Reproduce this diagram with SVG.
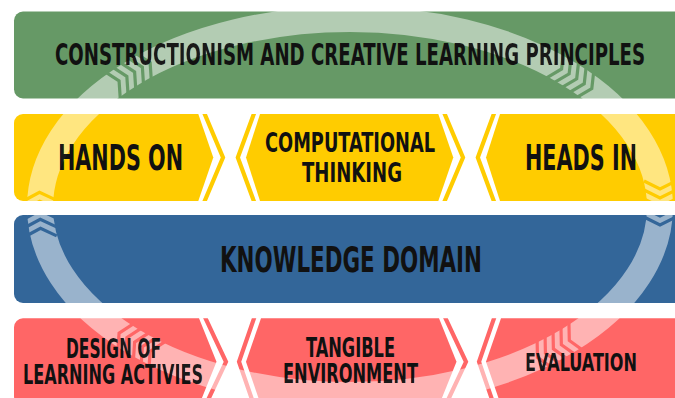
<svg xmlns="http://www.w3.org/2000/svg" width="675" height="398" viewBox="0 0 675 398">
<defs>
<style>
.lbl{font-family:"Liberation Sans Narrow","DejaVu Sans Condensed","Liberation Sans",Arial,sans-serif;font-weight:700;fill:#111;}
.green{fill:#669966}
.yellow{fill:#FFCC00}
.blue{fill:#336699}
.red{fill:#FF6666}
.sy{fill:none;stroke:#FFCC00;stroke-width:4.2;stroke-miterlimit:10}
.sr{fill:none;stroke:#FF6666;stroke-width:4.2;stroke-miterlimit:10}
.ring{fill:none;stroke:#fff;stroke-opacity:.5;stroke-width:26}
</style>
<clipPath id="rowY"><rect x="0" y="114" width="675" height="87"/></clipPath>
<clipPath id="rowR"><rect x="0" y="318.3" width="675" height="87"/></clipPath>
<g id="chevs" fill="none" stroke="#000" stroke-width="3.2">
<polyline points="-26,-16 -18,0 -26,16"/>
<polyline points="-17,-16 -9,0 -17,16"/>
<polyline points="-8,-16 0,0 -8,16"/>
<polyline points="1,-16 9,0 1,16"/>
<polyline points="10,-16 18,0 10,16"/>
</g>
<mask id="ringMask" maskUnits="userSpaceOnUse" x="0" y="0" width="675" height="398">
<rect width="675" height="398" fill="#fff"/>
<use href="#chevs" transform="translate(134.6,71.8) rotate(-30.4)"/>
<use href="#chevs" transform="translate(576.7,78.8) rotate(33)"/>
<use href="#chevs" transform="translate(660,207) rotate(90)"/>
<use href="#chevs" transform="translate(553.4,348.9) rotate(152.2)"/>
<use href="#chevs" transform="translate(134.6,342.2) rotate(-149.6)"/>
<use href="#chevs" transform="translate(40,210.3) rotate(-91.6)"/>
<use href="#t-principles"/>
<use href="#t-hands"/>
<use href="#t-comp1"/>
<use href="#t-comp2"/>
<use href="#t-heads"/>
<use href="#t-knowledge"/>
<use href="#t-design1"/>
<use href="#t-design2"/>
<use href="#t-tang1"/>
<use href="#t-tang2"/>
<use href="#t-eval"/>
</mask>
</defs>

<g id="node-principles">
<rect class="green" x="14" y="11.5" width="700" height="87" rx="9"/>
<text id="t-principles" class="lbl" x="55" y="65" font-size="30" textLength="590" lengthAdjust="spacingAndGlyphs">CONSTRUCTIONISM AND CREATIVE LEARNING PRINCIPLES</text>
</g>

<g id="node-hands-on">
<path class="yellow" d="M23,114 H198.3 L213.3,157.5 L198.3,201 H23 A9,9 0 0 1 14,192 V123 A9,9 0 0 1 23,114 Z"/>
<text id="t-hands" class="lbl" x="58" y="170" font-size="35" textLength="125" lengthAdjust="spacingAndGlyphs">HANDS ON</text>
</g>

<g id="node-computational-thinking">
<path class="yellow" d="M260,114 H438.3 L453.3,157.5 L438.3,201 H260 L246,157.5 Z"/>
<text id="t-comp1" class="lbl" x="265" y="152" font-size="27" textLength="170" lengthAdjust="spacingAndGlyphs">COMPUTATIONAL</text>
<text id="t-comp2" class="lbl" x="302" y="182" font-size="27" textLength="100" lengthAdjust="spacingAndGlyphs">THINKING</text>
</g>

<g id="node-heads-in">
<path class="yellow" d="M500,114 H680 V201 H500 L486,157.5 Z"/>
<text id="t-heads" class="lbl" x="525" y="170" font-size="35" textLength="112" lengthAdjust="spacingAndGlyphs">HEADS IN</text>
</g>

<g id="node-knowledge-domain">
<rect class="blue" x="14" y="215" width="700" height="88" rx="9"/>
<text id="t-knowledge" class="lbl" x="220" y="272" font-size="35" textLength="262" lengthAdjust="spacingAndGlyphs">KNOWLEDGE DOMAIN</text>
</g>

<g id="node-design">
<path class="red" d="M23,318.3 H199 L216.5,361.8 L199,405.3 H23 A9,9 0 0 1 14,396.3 V327.3 A9,9 0 0 1 23,318.3 Z"/>
<text id="t-design1" class="lbl" x="66" y="358" font-size="26" textLength="95" lengthAdjust="spacingAndGlyphs">DESIGN OF</text>
<text id="t-design2" class="lbl" x="23" y="383.5" font-size="26" textLength="180" lengthAdjust="spacingAndGlyphs">LEARNING ACTIVIES</text>
</g>

<g id="node-tangible">
<path class="red" d="M261,318.3 H439 L456.5,361.8 L439,405.3 H261 L246,361.8 Z"/>
<text id="t-tang1" class="lbl" x="306" y="357" font-size="26" textLength="89" lengthAdjust="spacingAndGlyphs">TANGIBLE</text>
<text id="t-tang2" class="lbl" x="283" y="383" font-size="26" textLength="135" lengthAdjust="spacingAndGlyphs">ENVIRONMENT</text>
</g>

<g id="node-evaluation">
<path class="red" d="M501,318.3 H680 V405.3 H501 L486,361.8 Z"/>
<text id="t-eval" class="lbl" x="525" y="371" font-size="25" textLength="112" lengthAdjust="spacingAndGlyphs">EVALUATION</text>
</g>

<g id="separators">
<g clip-path="url(#rowY)">
<polyline class="sy" points="203,110 223,157.5 203,205"/>
<polyline class="sy" points="255.3,110 237.8,157.5 255.3,205"/>
<polyline class="sy" points="443,110 463,157.5 443,205"/>
<polyline class="sy" points="495.3,110 477.8,157.5 495.3,205"/>
</g>
<g clip-path="url(#rowR)">
<polyline class="sr" points="203.5,314 226,361.8 203.5,409.6"/>
<polyline class="sr" points="255.5,314 239,361.8 255.5,409.6"/>
<polyline class="sr" points="443.5,314 466,361.8 443.5,409.6"/>
<polyline class="sr" points="495.5,314 479,361.8 495.5,409.6"/>
</g>
</g>

<g id="connectors">
<ellipse class="ring" cx="350" cy="207" rx="310" ry="188" mask="url(#ringMask)"/>
</g>
</svg>
